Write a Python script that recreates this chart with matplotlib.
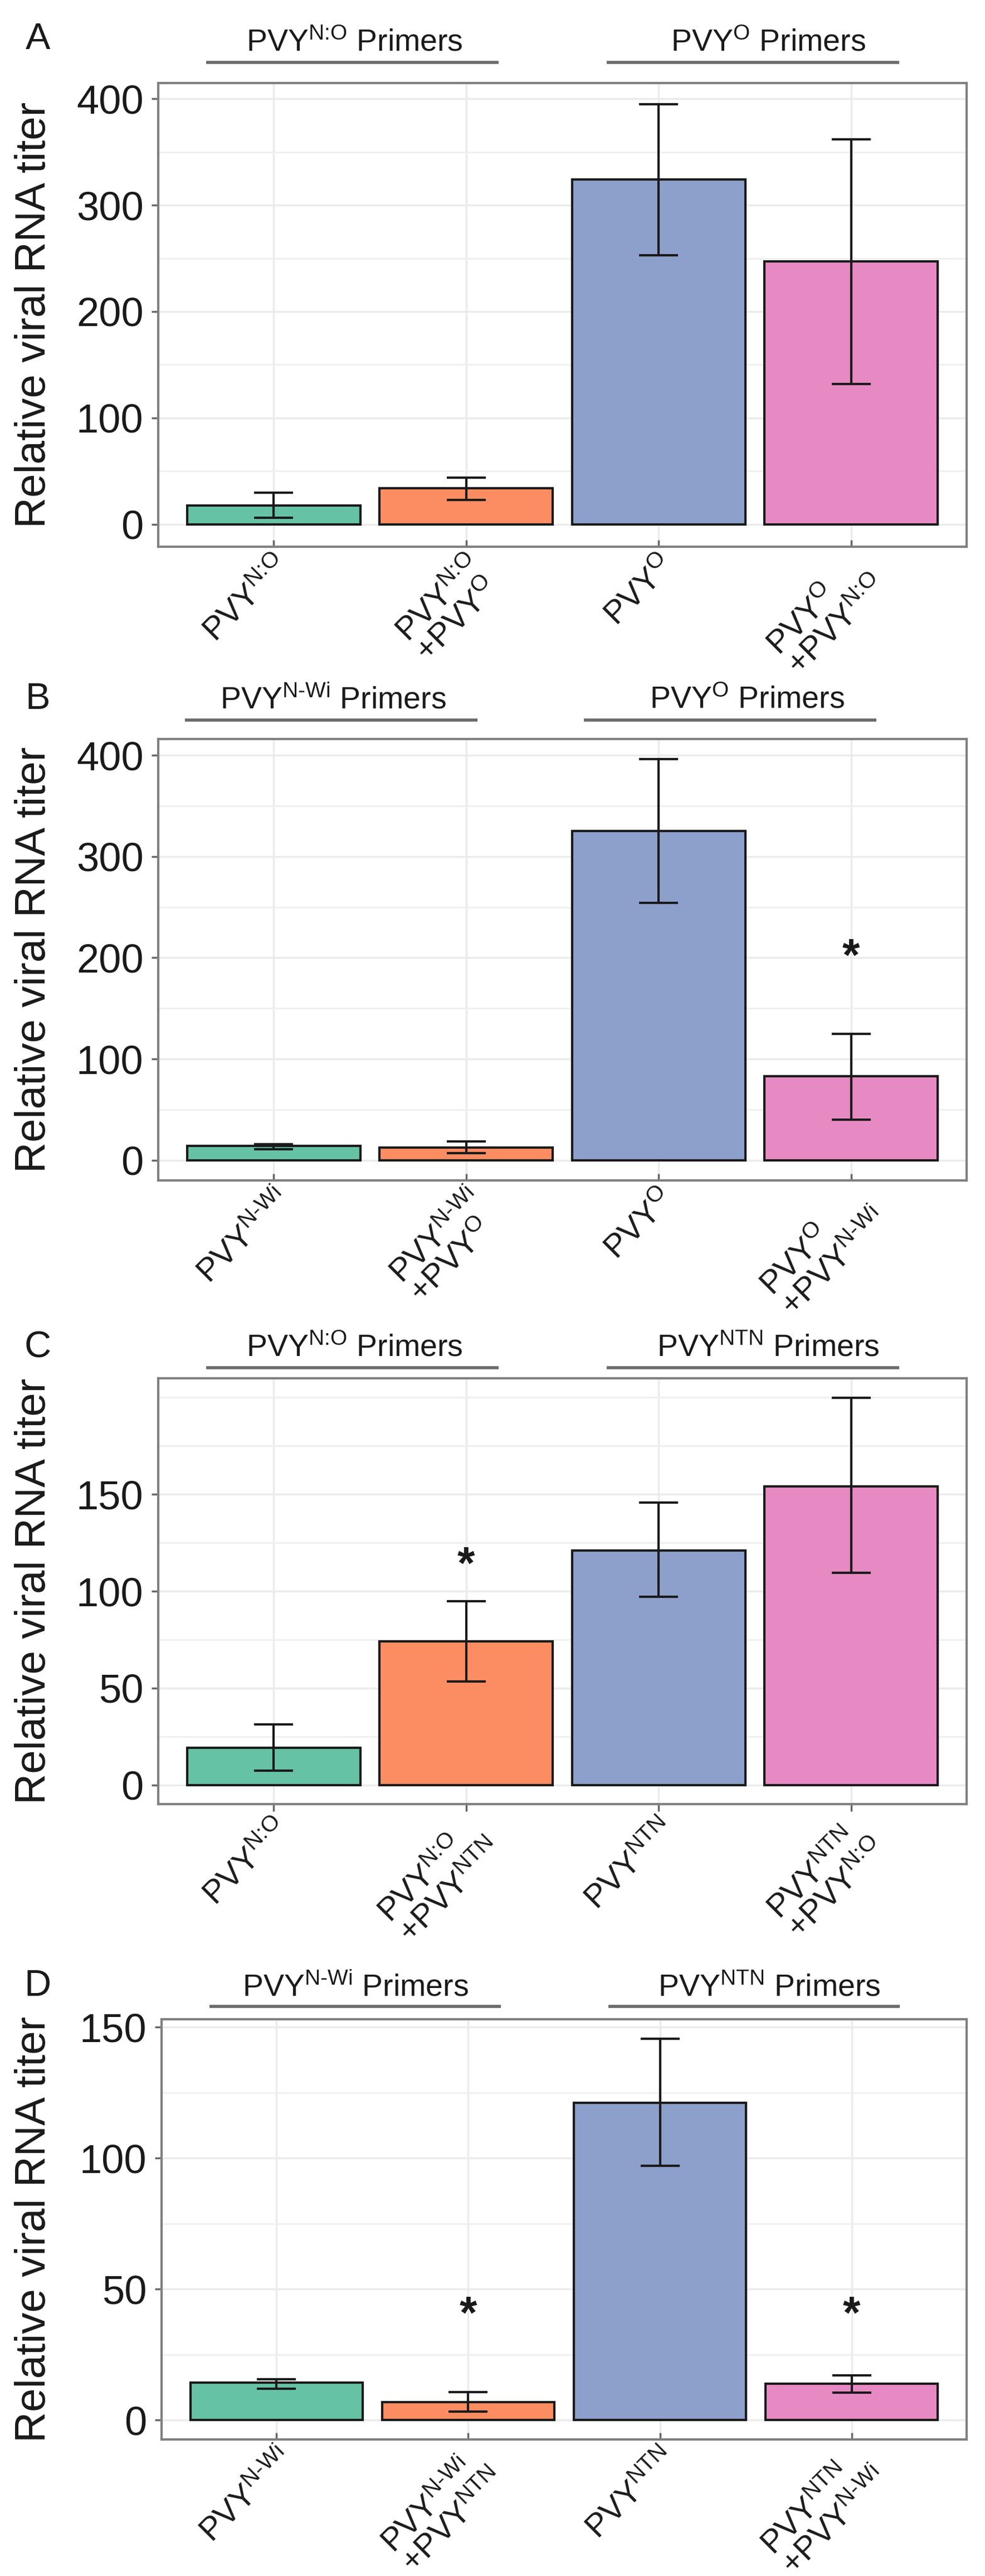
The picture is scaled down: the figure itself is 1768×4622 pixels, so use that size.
import re
import matplotlib
matplotlib.use("Agg")
import matplotlib.pyplot as plt
from matplotlib import transforms as mtransforms

plt.rcParams['font.family'] = ['Liberation Sans', 'DejaVu Sans']
plt.rcParams['mathtext.fontset'] = 'custom'
plt.rcParams['mathtext.rm'] = 'Liberation Sans'
plt.rcParams['mathtext.it'] = 'Liberation Sans:italic'
plt.rcParams['mathtext.bf'] = 'Liberation Sans:bold'

# ---------------- data ----------------
bar_colors = ['#66C2A5', '#FC8D62', '#8DA0CB', '#E78AC3']
y_label = 'Relative viral RNA titer'

labels_A = ['PVY^{N:O}', 'PVY^{N:O}\n+PVY^{O}', 'PVY^{O}', 'PVY^{O}\n+PVY^{N:O}']
mean_A = [18, 34, 324, 247]
low_A = [6, 23, 253, 132]
high_A = [30, 44, 395, 362]
star_A = [None, None, None, None]
primers_A = ['PVY^{N:O} Primers', 'PVY^{O} Primers']

labels_B = ['PVY^{N-Wi}', 'PVY^{N-Wi}\n+PVY^{O}', 'PVY^{O}', 'PVY^{O}\n+PVY^{N-Wi}']
mean_B = [14, 12.5, 325, 83]
low_B = [11, 6.7, 254, 40]
high_B = [16, 18.5, 396, 125]
star_B = [None, None, None, 213]
primers_B = ['PVY^{N-Wi} Primers', 'PVY^{O} Primers']

labels_C = ['PVY^{N:O}', 'PVY^{N:O}\n+PVY^{NTN}', 'PVY^{NTN}', 'PVY^{NTN}\n+PVY^{N:O}']
mean_C = [19.3, 74, 121, 154]
low_C = [7.5, 53.4, 97, 109.5]
high_C = [31.3, 94.8, 145.6, 199.8]
star_C = [None, 120, None, None]
primers_C = ['PVY^{N:O} Primers', 'PVY^{NTN} Primers']

labels_D = ['PVY^{N-Wi}', 'PVY^{N-Wi}\n+PVY^{NTN}', 'PVY^{NTN}', 'PVY^{NTN}\n+PVY^{N-Wi}']
mean_D = [14.2, 6.8, 121, 13.8]
low_D = [12, 3.3, 97, 10.4]
high_D = [15.5, 10.7, 145.5, 17.1]
star_D = [None, 45, None, 45]
primers_D = ['PVY^{N-Wi} Primers', 'PVY^{NTN} Primers']

# ---------------- layout (pixels) ----------------
W, H = 1768, 4622
fig = plt.figure(figsize=(W / 100, H / 100), dpi=100)


def mt(s):
    return re.sub(r'\^\{([^}]*)\}', lambda m: r'$^{\text{' + m.group(1) + '}}$', s)


def panel(letter, rect, labels, means, lows, highs, stars, primers,
          ylim, major, minor, tick_dir, line_spans, text_x,
          letter_y, text_y, line_y):
    l, r, t, b = rect
    ax = fig.add_axes([l / W, 1 - b / H, (r - l) / W, (b - t) / H])
    x = list(range(1, len(means) + 1))
    yerr = [[m - lo for m, lo in zip(means, lows)],
            [hi - m for m, hi in zip(means, highs)]]
    ax.bar(x, means, width=0.9, color=bar_colors, edgecolor='#1a1a1a',
           linewidth=3, zorder=2)
    ax.errorbar(x, means, yerr=yerr, fmt='none', ecolor='#1a1a1a',
                elinewidth=3, capsize=25, capthick=3, zorder=3)
    star_tr = mtransforms.offset_copy(ax.transData, fig=fig, y=-0.57 * 58, units='points')
    for xi, s in zip(x, stars):
        if s is not None:
            ax.text(xi, s, '*', ha='center', va='baseline', fontsize=58,
                    fontweight='bold', color='#1a1a1a', transform=star_tr)
    ax.set_xlim(0.4, 4.6)
    ax.set_ylim(*ylim)
    ax.set_yticks(major)
    ax.set_yticks(minor, minor=True)
    ax.set_xticks(x)
    ax.set_xticklabels([mt(s) for s in labels], rotation=45, ha='right',
                       va='top', rotation_mode='anchor', multialignment='left',
                       fontsize=42, color='#1a1a1a', linespacing=0.92)
    dx = mtransforms.ScaledTranslation(0.22, 0, fig.dpi_scale_trans)
    for lab in ax.get_xticklabels():
        lab.set_transform(lab.get_transform() + dx)
    ax.set_axisbelow(True)
    ax.grid(which='major', color='#EBEBEB', linewidth=2.5)
    ax.grid(which='minor', axis='y', color='#EFEFEF', linewidth=2.0)
    ax.tick_params(axis='y', which='major', length=9, width=2.5, color='#666666',
                   pad=10, labelsize=52, labelcolor='#1a1a1a')
    ax.tick_params(axis='y', which='minor', length=0)
    ax.tick_params(axis='x', which='major', length=9, width=2.5, color='#666666',
                   direction=tick_dir, pad=6 if tick_dir == 'in' else 5)
    for sp in ax.spines.values():
        sp.set_color('#808080')
        sp.set_linewidth(3)
    tr = mtransforms.blended_transform_factory(ax.transData, ax.transAxes)
    frac = lambda ypx: (b - ypx) / (b - t)
    for (x0, x1), tx, lab in zip(line_spans, text_x, primers):
        ax.plot([x0, x1], [frac(line_y), frac(line_y)], transform=tr,
                clip_on=False, color='#6b6b6b', linewidth=4,
                solid_capstyle='butt')
        ax.text(tx, frac(text_y), mt(lab), transform=tr, ha='center',
                va='center', fontsize=40, color='#1a1a1a')
    fig.text(68 / W, 1 - letter_y / H, letter, ha='center', va='center',
             fontsize=48, color='#1a1a1a')
    fig.text(62 / W, 1 - ((t + b) / 2) / H, y_label, rotation=90,
             ha='center', va='center', fontsize=55, color='#1a1a1a')
    return ax


panel('A', (284, 1735, 149, 981), labels_A, mean_A, low_A, high_A, star_A,
      primers_A, (-21, 414.7), [0, 100, 200, 300, 400], [50, 150, 250, 350],
      'in', [(0.65, 2.17), (2.73, 4.25)], [1.42, 3.57], 71, 77, 112)
panel('B', (284, 1735, 1326, 2118), labels_B, mean_B, low_B, high_B, star_B,
      primers_B, (-20, 416), [0, 100, 200, 300, 400], [50, 150, 250, 350],
      'in', [(0.54, 2.06), (2.61, 4.13)], [1.31, 3.46], 1255, 1257, 1292)
panel('C', (284, 1735, 2473, 3237), labels_C, mean_C, low_C, high_C, star_C,
      primers_C, (-9.8, 209.8), [0, 50, 100, 150], [25, 75, 125, 175, 200],
      'out', [(0.65, 2.17), (2.73, 4.25)], [1.42, 3.57], 2419, 2419, 2454)
panel('D', (290, 1735, 3623, 4377), labels_D, mean_D, low_D, high_D, star_D,
      primers_D, (-7.4, 153), [0, 50, 100, 150], [25, 75, 125],
      'in', [(0.65, 2.17), (2.73, 4.25)], [1.41, 3.57], 3564, 3567, 3600)

fig.savefig('out.png', dpi=100, facecolor='white')
